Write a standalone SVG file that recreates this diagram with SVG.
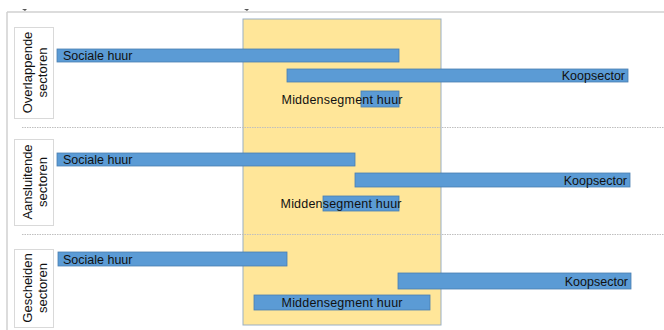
<svg xmlns="http://www.w3.org/2000/svg" width="664" height="330" viewBox="0 0 664 330">
<style>
.bar{fill:#5B9BD5;stroke:#4A7EB0;stroke-width:0.8}
.lbl{fill:#fff;stroke:#D9D9D9;stroke-width:1}
.t{font-family:"Liberation Sans",Arial,sans-serif;font-size:12.5px;fill:#111}
.v{font-family:"Liberation Sans",Arial,sans-serif;font-size:13px;fill:#111;text-anchor:middle}
.sep{stroke:#BFBFBF;stroke-width:1;stroke-dasharray:1.5 1}
</style>
<rect width="664" height="330" fill="#fff"/>
<g id="frame">
<line x1="7" y1="12" x2="664" y2="12" stroke="#D0D0D0" stroke-width="1.5"/>
<line x1="7" y1="12" x2="7" y2="330" stroke="#D0D0D0" stroke-width="1.5"/>
<path d="M22 9 h5 l-2 2 z" fill="#555"/>
<path d="M244 9 h5 l-2 2 z" fill="#555"/>
</g>
<g id="middensegment-zone">
<rect x="243" y="19" width="198" height="306" fill="#FFE699" stroke="#9AAFC4" stroke-width="1"/>
</g>
<g id="separators">
<line class="sep" x1="22" y1="127.5" x2="664" y2="127.5"/>
<line class="sep" x1="22" y1="234.5" x2="664" y2="234.5"/>
</g>
<g id="label-overlappende">
<rect class="lbl" x="14.5" y="27.5" width="39" height="91"/>
<text class="v" transform="translate(33.5,72.5) rotate(-90)"><tspan x="0" y="-2">Overlappende</tspan><tspan x="0" y="13">sectoren</tspan></text>
</g>
<g id="label-aansluitende">
<rect class="lbl" x="14.5" y="139.5" width="39" height="86"/>
<text class="v" transform="translate(33.5,182) rotate(-90)"><tspan x="0" y="-2">Aansluitende</tspan><tspan x="0" y="13">sectoren</tspan></text>
</g>
<g id="label-gescheiden">
<rect class="lbl" x="14.5" y="249.5" width="39" height="78"/>
<text class="v" transform="translate(33.5,288) rotate(-90)"><tspan x="0" y="-2">Gescheiden</tspan><tspan x="0" y="13">sectoren</tspan></text>
</g>
<g id="overlap-sociale-huur">
<rect class="bar" x="57" y="49" width="342" height="13"/>
<text class="t" x="63" y="60">Sociale huur</text>
</g>
<g id="overlap-koopsector">
<rect class="bar" x="287" y="69" width="341" height="13"/>
<text class="t" x="625" y="80" text-anchor="end">Koopsector</text>
</g>
<g id="overlap-middensegment">
<rect class="bar" x="361" y="91" width="38" height="16"/>
<text class="t" x="342" y="104" text-anchor="middle" textLength="121">Middensegment huur</text>
</g>
<g id="aansl-sociale-huur">
<rect class="bar" x="57" y="153" width="298" height="13"/>
<text class="t" x="63" y="164">Sociale huur</text>
</g>
<g id="aansl-koopsector">
<rect class="bar" x="355" y="173" width="275" height="14"/>
<text class="t" x="627" y="185" text-anchor="end">Koopsector</text>
</g>
<g id="aansl-middensegment">
<rect class="bar" x="323" y="196" width="76" height="15"/>
<text class="t" x="341" y="208" text-anchor="middle" textLength="121">Middensegment huur</text>
</g>
<g id="gesch-sociale-huur">
<rect class="bar" x="58" y="252" width="229" height="14"/>
<text class="t" x="63" y="264">Sociale huur</text>
</g>
<g id="gesch-koopsector">
<rect class="bar" x="398" y="273" width="233" height="16"/>
<text class="t" x="628" y="286" text-anchor="end">Koopsector</text>
</g>
<g id="gesch-middensegment">
<rect class="bar" x="254" y="295" width="176" height="15"/>
<text class="t" x="342" y="307" text-anchor="middle" textLength="121">Middensegment huur</text>
</g>
</svg>
